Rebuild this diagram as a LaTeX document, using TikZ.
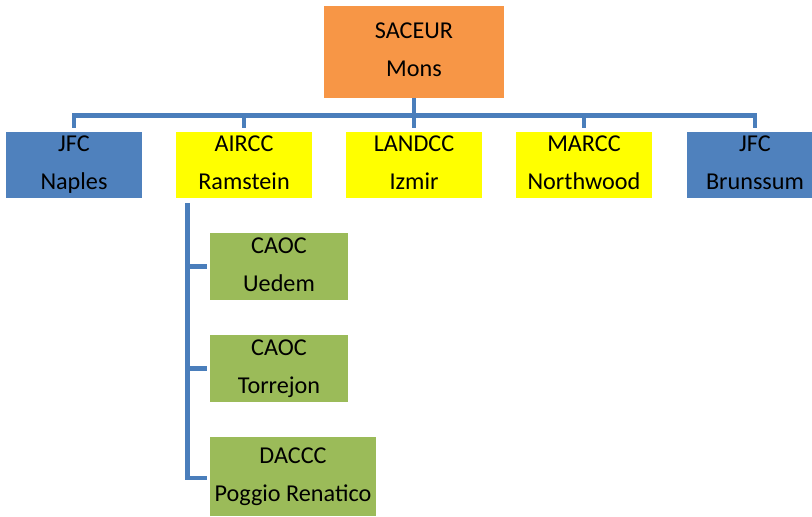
\documentclass[tikz,border=0pt]{standalone}
\usepackage{fontspec}
\setmainfont{Carlito}
\usetikzlibrary{calc}

\definecolor{hqorange}{HTML}{F79646}
\definecolor{jfcblue}{HTML}{4F81BD}
\definecolor{ccyellow}{HTML}{FFFF00}
\definecolor{cellgreen}{HTML}{9BBB59}
\definecolor{linkblue}{HTML}{4A7EBB}

\tikzset{
	unit/.style={rectangle, inner sep=0pt, minimum width=136pt, minimum height=66pt,
		align=center, font=\fontsize{24.2}{38}\selectfont,
		execute at begin node={\rule{0pt}{24.6pt}},
		execute at end node={\vphantom{g}}},
	hq/.style={unit, fill=hqorange, minimum width=180pt, minimum height=92pt},
	jfc/.style={unit, fill=jfcblue},
	cc/.style={unit, fill=ccyellow},
	cell/.style={unit, fill=cellgreen, minimum width=138pt, minimum height=67pt},
	link/.style={draw=linkblue, line width=4.8pt},
}

\begin{document}
\begin{tikzpicture}[x=1pt, y=1pt]
	\useasboundingbox (0,0) rectangle (812,-517);
	\clip (0,0) rectangle (812,-517);
	\node[hq] (saceur) at (414,-52) {SACEUR\\Mons};
	\node[jfc] (naples) at (74,-165) {JFC\\Naples};
	\node[cc] (aircc) at (244,-165) {AIRCC\\Ramstein};
	\node[cc] (landcc) at (414,-165) {LANDCC\\Izmir};
	\node[cc] (marcc) at (584,-165) {MARCC\\Northwood};
	\node[jfc] (brunssum) at (755,-165) {JFC\\Brunssum};
	\node[cell] (uedem) at (279,-266.5) {CAOC\\Uedem};
	\node[cell] (torrejon) at (279,-368.5) {CAOC\\Torrejon};
	\node[cell, minimum width=166pt, minimum height=79pt] (daccc) at (293,-476.5) {DACCC\\Poggio Renatico};
	% top level bus
	\coordinate (bus) at ($(saceur.south)+(0,-17)$);
	\draw[link, shorten >=4pt] (saceur.south) -- (landcc.north);
	\draw[link, shorten <=4pt, shorten >=4pt] (naples.north) |- (bus) -| (brunssum.north);
	\draw[link, shorten <=4pt] (aircc.north) -- (aircc.north |- bus);
	\draw[link, shorten <=4pt] (marcc.north) -- (marcc.north |- bus);
	% air component
	\coordinate (trunk) at ($(aircc.south west)+(12,-5)$);
	\draw[link, shorten >=3pt] (trunk) |- ($(daccc.west)+(0,-1.5)$);
	\draw[link, shorten >=3pt] (uedem.west -| trunk) -- (uedem.west);
	\draw[link, shorten >=3pt] (torrejon.west -| trunk) -- (torrejon.west);
\end{tikzpicture}
\end{document}
